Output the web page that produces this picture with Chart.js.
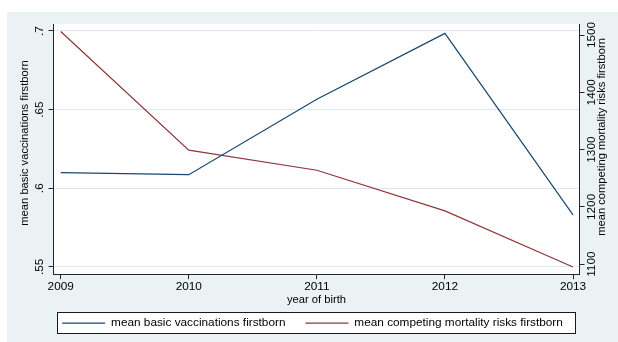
<!DOCTYPE html>
<html>
<head>
<meta charset="utf-8">
<script src="https://cdn.jsdelivr.net/npm/chart.js@4/dist/chart.umd.min.js"></script>
<style>
  html, body { margin: 0; padding: 0; background: #ffffff; width: 618px; height: 342px; overflow: hidden; }
  #panel { position: absolute; left: 7px; top: 12px; width: 611px; height: 330px; background: #eaf2f3; }
  canvas { display: block; }
</style>
</head>
<body>
<div id="panel"><canvas id="chart" width="611" height="330"></canvas></div>
<script>
// Birth cohorts and the two yearly means
const years = [2009, 2010, 2011, 2012, 2013];
const vaccinations = [0.6099, 0.6086, 0.6566, 0.6985, 0.583];
const mortalityRisks = [1506, 1299, 1264, 1193, 1095];

// Axis ticks
const leftTicks = [0.55, 0.6, 0.65, 0.7];
const leftTickLabels = ['.55', '.6', '.65', '.7'];
const rightTicks = [1100, 1200, 1300, 1400, 1500];
const rightTickLabels = ['1100', '1200', '1300', '1400', '1500'];

const leftTitle = 'mean basic vaccinations firstborn';
const rightTitle = 'mean competing mortality risks firstborn';
const xTitle = 'year of birth';

const FONT = "'Liberation Sans', Arial, Helvetica, sans-serif";
const NAVY = '#1a476f';
const MAROON = '#90353b';
const INK = '#000000';
const AXIS = '#262626';

// White plot region, legend frame and the two vertical axis titles
const decorations = {
  id: 'decorations',
  beforeDraw(chart) {
    const { ctx, chartArea: a, legend } = chart;
    ctx.save();
    ctx.fillStyle = '#ffffff';
    ctx.fillRect(a.left, a.top, a.right - a.left, a.bottom - a.top);
    const boxes = legend && legend.legendHitBoxes;
    if (boxes && boxes.length) {
      const first = boxes[0];
      const last = boxes[boxes.length - 1];
      const cy = first.top + first.height / 2;
      const x0 = Math.round(first.left - 5) + 0.5;
      const x1 = Math.round(last.left + last.width + 12) + 0.5;
      const y0 = Math.round(cy - 11) + 0.5;
      const y1 = Math.round(cy + 11) - 0.5;
      ctx.fillStyle = '#ffffff';
      ctx.fillRect(x0, y0, x1 - x0, y1 - y0);
      ctx.strokeStyle = '#1a1a1a';
      ctx.lineWidth = 1;
      ctx.strokeRect(x0, y0, x1 - x0, y1 - y0);
    }
    ctx.restore();
  },
  afterDraw(chart) {
    const { ctx } = chart;
    ctx.save();
    ctx.fillStyle = INK;
    ctx.font = '11.2px ' + FONT;
    ctx.textAlign = 'center';
    ctx.textBaseline = 'middle';
    ctx.translate(18, 131);
    ctx.rotate(-Math.PI / 2);
    ctx.fillText(leftTitle, 0, 0);
    ctx.restore();
    ctx.save();
    ctx.fillStyle = INK;
    ctx.font = '11.2px ' + FONT;
    ctx.textAlign = 'center';
    ctx.textBaseline = 'middle';
    ctx.translate(595, 125);
    ctx.rotate(-Math.PI / 2);
    ctx.fillText(rightTitle, 0, 0);
    ctx.restore();
  }
};

const tickFont = { family: FONT, size: 11.8 };

new Chart(document.getElementById('chart'), {
  type: 'line',
  data: {
    datasets: [
      {
        label: leftTitle,
        data: years.map((yr, i) => ({ x: yr, y: vaccinations[i] })),
        borderColor: NAVY,
        backgroundColor: NAVY,
        borderWidth: 1.2,
        pointRadius: 0,
        tension: 0,
        yAxisID: 'y'
      },
      {
        label: rightTitle,
        data: years.map((yr, i) => ({ x: yr, y: mortalityRisks[i] })),
        borderColor: MAROON,
        backgroundColor: MAROON,
        borderWidth: 1.2,
        pointRadius: 0,
        tension: 0,
        yAxisID: 'y1'
      }
    ]
  },
  options: {
    responsive: false,
    animation: false,
    devicePixelRatio: 1,
    layout: { padding: { top: 12, left: 0, right: 0, bottom: 3 } },
    plugins: {
      tooltip: { enabled: false },
      legend: {
        position: 'bottom',
        labels: {
          boxWidth: 43,
          boxHeight: 1.2,
          padding: 20,
          color: INK,
          font: { family: FONT, size: 11.8 },
          generateLabels(chart) {
            return Chart.defaults.plugins.legend.labels.generateLabels(chart)
              .map(item => Object.assign(item, { lineWidth: 0, fillStyle: item.strokeStyle }));
          }
        }
      }
    },
    scales: {
      x: {
        type: 'linear',
        min: 2008.9438,
        max: 2013.0507,
        afterBuildTicks(scale) { scale.ticks = years.map(v => ({ value: v })); },
        afterFit(scale) { scale.height = 23; },
        ticks: {
          callback: (v, i) => String(years[i]),
          color: INK,
          font: tickFont,
          padding: 0,
          maxRotation: 0,
          autoSkip: false
        },
        grid: { drawOnChartArea: false, tickLength: 5, tickColor: AXIS },
        border: { color: AXIS, width: 1 },
        title: {
          display: true,
          text: xTitle,
          color: INK,
          font: { family: FONT, size: 11.2 },
          padding: { top: 0, bottom: -9.4 }
        }
      },
      y: {
        position: 'left',
        min: 0.5453,
        max: 0.70445,
        afterBuildTicks(scale) { scale.ticks = leftTicks.map(v => ({ value: v })); },
        afterFit(scale) { scale.width = 46.5; },
        ticks: {
          callback: (v, i) => leftTickLabels[i],
          color: INK,
          font: tickFont,
          minRotation: 90,
          maxRotation: 90,
          crossAlign: 'center',
          padding: 1
        },
        grid: { color: '#dde8ec', lineWidth: 1, tickLength: 5, tickColor: AXIS },
        border: { color: AXIS, width: 1 }
      },
      y1: {
        position: 'right',
        min: 1082.5,
        max: 1519.2,
        afterBuildTicks(scale) { scale.ticks = rightTicks.map(v => ({ value: v })); },
        afterFit(scale) { scale.width = 38.5; },
        ticks: {
          callback: (v, i) => rightTickLabels[i],
          color: INK,
          font: tickFont,
          minRotation: 90,
          maxRotation: 90,
          crossAlign: 'center',
          padding: -6
        },
        grid: { drawOnChartArea: false, tickLength: 5, tickColor: AXIS },
        border: { color: AXIS, width: 1 }
      }
    }
  },
  plugins: [decorations]
});
</script>
</body>
</html>
